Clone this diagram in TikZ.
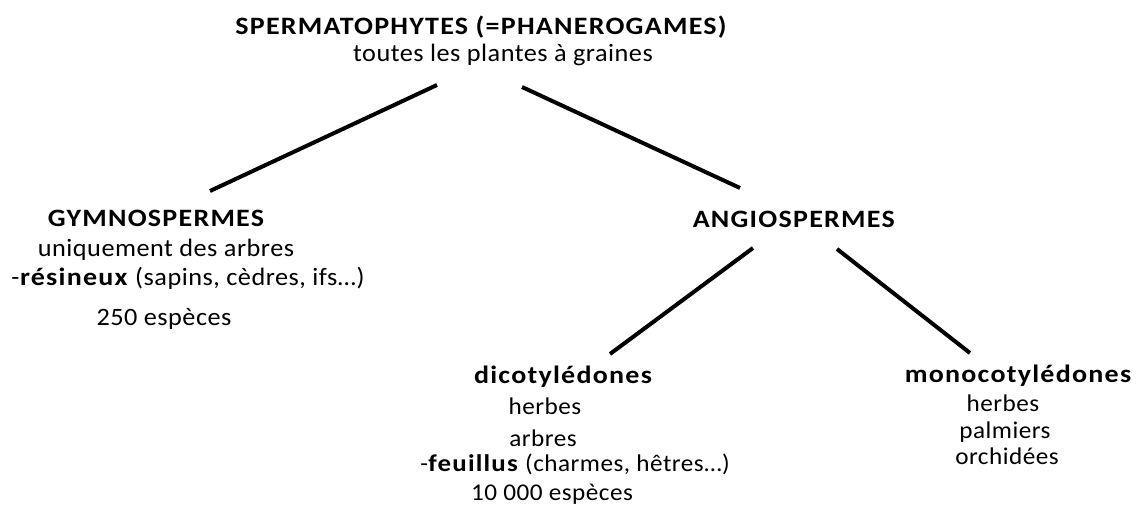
\documentclass[tikz,border=0pt]{standalone}
\usepackage{fontspec}
\setmainfont{Carlito}[FakeStretch=1.05,LetterSpace=2,BoldFeatures={FakeStretch=1.12,LetterSpace=5}]
\begin{document}
\begin{tikzpicture}[x=1pt,y=-1pt,
  txt/.style={inner sep=0pt,anchor=base,font=\fontsize{25}{30}\selectfont},
  hd/.style={txt,font=\fontsize{25}{30}\selectfont\bfseries},
  sm/.style={txt,font=\fontsize{24}{28}\selectfont},
  branch/.style={line width=4pt,black}]
\useasboundingbox (0,0) rectangle (1141,513);
% top
\node[hd]  (spt)  at (481,35) {SPERMATOPHYTES (=PHANEROGAMES)};
\node[txt] (sps)  at (503,62) {toutes les plantes à graines};
% gymnospermes
\node[hd]  (gym)  at (156,227) {GYMNOSPERMES};
\node[txt] (gym1) at (166,257) {uniquement des arbres};
\node[txt] (gym2) at (188,286) {-\textbf{résineux} (sapins, cèdres, ifs…)};
\node[txt] (gym3) at (164,325) {250 espèces};
% angiospermes
\node[hd,anchor=base east] (ang) at (895,228) {ANGIOSPERMES};
% dicotyledones
\node[hd]  (dic)  at (563,383) {dicotylédones};
\node[sm]  (dic1) at (545,414) {herbes};
\node[sm]  (dic2) at (543,446) {arbres};
\node[sm]  (dic3) at (575,471) {-\textbf{feuillus} (charmes, hêtres…)};
\node[sm]  (dic4) at (552,500) {10 000 espèces};
% monocotyledones
\node[hd]  (mon)  at (1018,382) {monocotylédones};
\node[sm]  (mon1) at (1003,411) {herbes};
\node[sm]  (mon2) at (1005,438) {palmiers};
\node[sm]  (mon3) at (1007,464) {orchidées};
% connector ends
\coordinate (a1) at (437,85);
\coordinate (a2) at (210,191);
\coordinate (b1) at (522,87);
\coordinate (b2) at (740,188);
\coordinate (c1) at (753,248);
\coordinate (c2) at (610,354);
\coordinate (d1) at (837,249);
\coordinate (d2) at (970,353);
\draw[branch] (a1) -- (a2);
\draw[branch] (b1) -- (b2);
\draw[branch] (c1) -- (c2);
\draw[branch] (d1) -- (d2);
\end{tikzpicture}
\end{document}
